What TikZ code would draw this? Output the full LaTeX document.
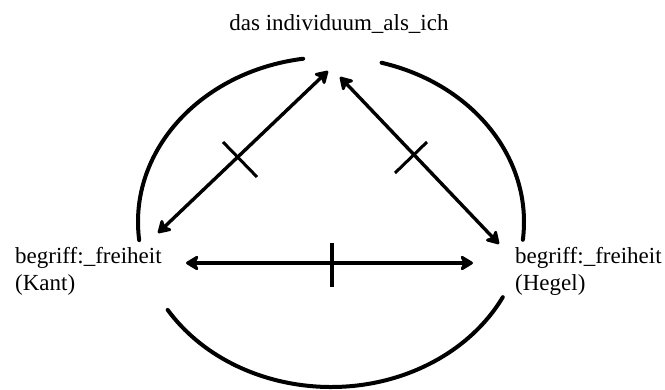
\documentclass[tikz,border=0pt]{standalone}
\usepackage{fontspec}
\setmainfont{Liberation Serif}
\usetikzlibrary{arrows.meta,calc}
\begin{document}
\begin{tikzpicture}[x=1pt,y=-1pt,
  lbl/.style={inner sep=0pt,font=\fontsize{23}{27}\selectfont,align=left},
  ring/.style={line width=4pt,line cap=round},
  link/.style={line width=3.4pt,{Stealth[length=15pt,width=18pt,inset=4pt,round]}-{Stealth[length=15pt,width=18pt,inset=4pt,round]}},
  tick/.style={line width=3pt}
]
\useasboundingbox (0,0) rectangle (665,390);
% labels
\node[lbl,anchor=base] (ich) at (339,31) {das individuum\_als\_ich};
\node[lbl,anchor=north west] (kant) at (15,247) {begriff:\_freiheit\\(Kant)};
\node[lbl,anchor=north west] (hegel) at (515,247) {begriff:\_freiheit\\(Hegel)};
% arrow ends
\coordinate (iL) at (328,71);
\coordinate (iR) at (340,77);
\coordinate (kD) at (158,233);
\coordinate (kH) at (186,263);
\coordinate (hD) at (499,244);
\coordinate (hH) at (473,263);
% ring arcs
\coordinate (c) at (331,222);
\draw[ring] (c) ++(261.7:193 and 165) arc[start angle=261.7,end angle=173.7,x radius=193,y radius=165];
\draw[ring] (c) ++(285.2:193 and 165) arc[start angle=285.2,end angle=366.2,x radius=193,y radius=165];
\draw[ring] (c) ++(147.8:193 and 165) arc[start angle=147.8,end angle=27.1,x radius=193,y radius=165];
% connectors
\draw[link] (kD) -- (iL);
\draw[link] (iR) -- (hD);
\draw[link,line width=4pt] (kH) -- (hH);
% crossing ticks
\draw[tick] (223,142) -- (257,177);
\draw[tick] (427,142) -- (395,173);
\draw[line width=4pt] (332,243) -- (332,287);
\end{tikzpicture}
\end{document}
